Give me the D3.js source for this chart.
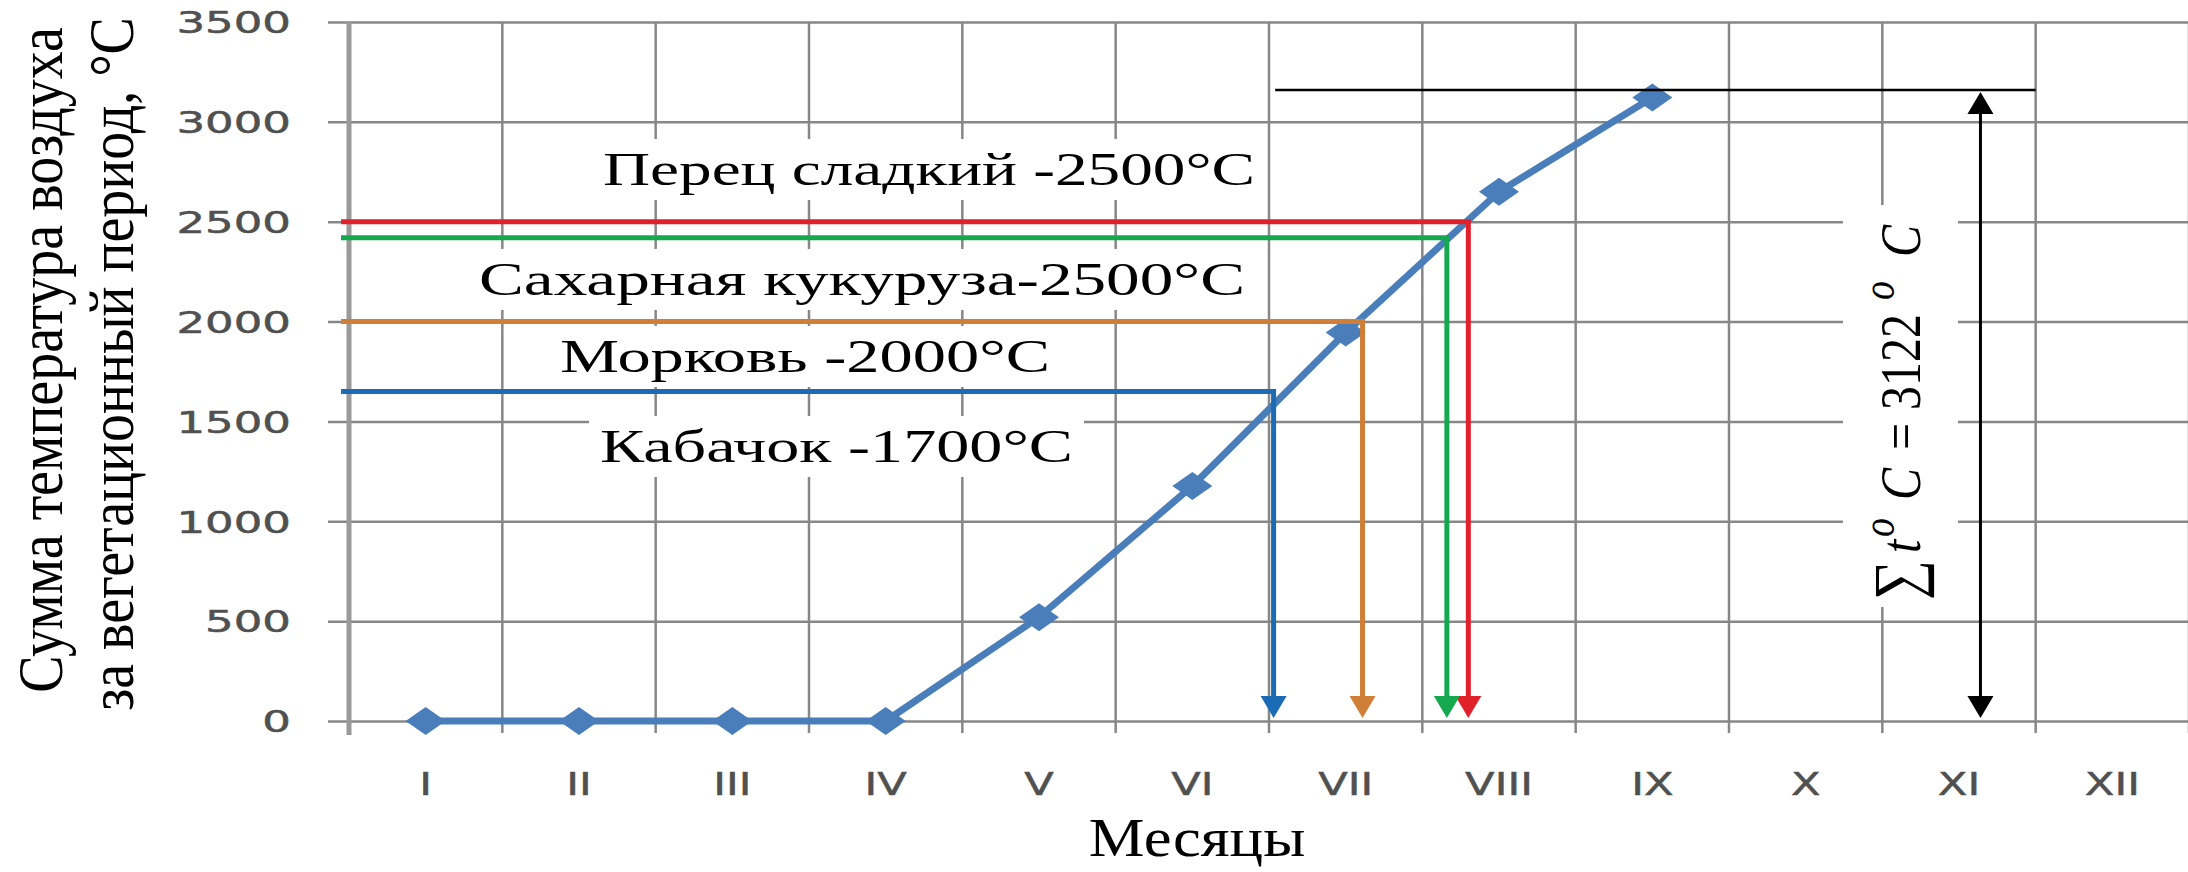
<!DOCTYPE html>
<html>
<head>
<meta charset="utf-8">
<style>
body { margin: 0; background: #fff; }
svg { display: block; background: #fff; }
.grid line { stroke: #878787; stroke-width: 2.5; }
.axis text { fill: #505050; stroke: #505050; stroke-width: 0.5; }
.title { font-family: "Liberation Serif", "Times New Roman", serif; fill: #000; }
.note { font-family: "Liberation Serif", "Times New Roman", serif; font-size: 47px; fill: #000; }
.series { fill: none; stroke: #4a7ebb; stroke-width: 7; stroke-linejoin: round; }
.dot { fill: #4a7ebb; }
</style>
</head>
<body>
<svg width="2188" height="872"></svg>
<script src="https://d3js.org/d3.v7.min.js"></script>
<script>

// ---- data ----
var months = ["I", "II", "III", "IV", "V", "VI", "VII", "VIII", "IX", "X", "XI", "XII"];
var yTickValues = [0, 500, 1000, 1500, 2000, 2500, 3000, 3500];

// cumulative sum of air temperature, I..IX
var sumMonths = ["I", "II", "III", "IV", "V", "VI", "VII", "VIII", "IX"];
var sumValues = [0, 0, 0, 0, 520, 1177, 1945, 2650, 3122];

var crops = ["Перец сладкий", "Сахарная кукуруза", "Морковь", "Кабачок"];
var cropSep = [" -", "-", " -", " -"];
var cropNeed = [2500, 2500, 2000, 1700];     // as written in the labels
var cropLevel = [2500, 2420, 2000, 1650];    // where the coloured line is drawn
var cropMonth = [6.80, 6.66, 6.11, 5.53];    // where the arrow drops (0 = middle of I)

var totalSum = 3122;
var totalLevel = 3160;      // black line on top
var totalFrom = 5.54, totalTo = 10.5, totalArrow = 10.14;

// ---- styles / layout ----
var cropColors = ["#e0202a", "#14a84f", "#cf7f38", "#1b6cb4"];
var labelPos = [[603, 185, 652], [479, 295, 766], [560, 372, 490], [600, 462, 473]];

var svg = d3.select("svg");
var plotLeft = 349, plotRight = 2189, plotTop = 22, zeroY = 721;

var x = d3.scaleBand().domain(months).range([plotLeft, plotRight]);
var xi = d3.scaleLinear().domain([-0.5, 11.5]).range([plotLeft, plotRight]);
var y = d3.scaleLinear().domain([0, 3500]).range([zeroY, plotTop]);

var gGrid = svg.append("g").attr("class", "grid");
var gBoxes = svg.append("g");
var gSeries = svg.append("g");
var gLines = svg.append("g");
var gText = svg.append("g");

// horizontal grid + y labels
var gy = gGrid.append("g")
    .attr("class", "axis")
    .attr("transform", "translate(328,0)")
    .call(d3.axisLeft(y).tickValues(yTickValues).tickSize(-(plotRight - 328)).tickFormat(d3.format("d")));
gy.attr("font-family", "DejaVu Sans").attr("font-size", 30);
gy.select(".domain").remove();
gy.selectAll("text")
    .attr("x", null)
    .attr("dy", "0.36em")
    .attr("transform", "translate(-37,0) scale(1.5,1)");

// vertical grid (category boundaries, with small ticks under 0)
gGrid.selectAll(".vline")
  .data(d3.range(13))
  .enter().append("line")
    .attr("class", "vline")
    .attr("x1", function(d) { return xi(d - 0.5); })
    .attr("x2", function(d) { return xi(d - 0.5); })
    .attr("y1", plotTop)
    .attr("y2", zeroY + 12);

// left axis
gGrid.append("line")
    .attr("x1", plotLeft).attr("x2", plotLeft)
    .attr("y1", plotTop).attr("y2", zeroY + 14)
    .style("stroke", "#9a9a9a").style("stroke-width", 5);

// month labels
var gx = gGrid.append("g")
    .attr("class", "axis")
    .attr("transform", "translate(0," + zeroY + ")")
    .call(d3.axisBottom(x).tickSize(0));
gx.attr("font-family", "DejaVu Sans").attr("font-size", 32);
gx.select(".domain").remove();
gx.selectAll("text")
    .attr("y", 0)
    .attr("dy", 0)
    .attr("transform", "translate(0,74) scale(1.35,1)");

// series
var line = d3.line()
    .x(function(d, i) { return x(sumMonths[i]) + x.bandwidth() / 2; })
    .y(function(d) { return y(d); });

gSeries.append("path")
    .datum(sumValues)
    .attr("class", "series")
    .attr("d", line);

gSeries.selectAll(".dot")
  .data(sumValues)
  .enter().append("path")
    .attr("class", "dot")
    .attr("d", function(d, i) {
      var cx = x(sumMonths[i]) + x.bandwidth() / 2, cy = y(d);
      return "M" + (cx - 20) + "," + cy + "L" + cx + "," + (cy - 14) +
             "L" + (cx + 20) + "," + cy + "L" + cx + "," + (cy + 14) + "Z";
    });

// arrow head helper
function head(g, ax, tipY, dir, color) {
  g.append("path")
    .attr("d", "M" + (ax - 13) + "," + (tipY - 22 * dir) + "L" + (ax + 13) + "," + (tipY - 22 * dir) +
               "L" + ax + "," + tipY + "Z")
    .attr("fill", color);
}

// coloured crop lines
crops.forEach(function(c, i) {
  var px = xi(cropMonth[i]), py = y(cropLevel[i]), tip = zeroY - 3;
  gLines.append("path")
    .attr("d", d3.line()([[341, py], [px, py], [px, tip - 18]]))
    .attr("fill", "none")
    .attr("stroke", cropColors[i])
    .attr("stroke-width", 5);
  head(gLines, px, tip, 1, cropColors[i]);
});

// total line and arrow
var ty = y(totalLevel);
gLines.append("line")
    .attr("x1", xi(totalFrom)).attr("x2", xi(totalTo))
    .attr("y1", ty).attr("y2", ty)
    .attr("stroke", "#000").attr("stroke-width", 2.5);
gLines.append("line")
    .attr("x1", xi(totalArrow)).attr("x2", xi(totalArrow))
    .attr("y1", ty + 18).attr("y2", zeroY - 20)
    .attr("stroke", "#000").attr("stroke-width", 3);
head(gLines, xi(totalArrow), ty + 2, -1, "#000");
head(gLines, xi(totalArrow), zeroY - 3, 1, "#000");

// crop labels, with white boxes hiding the grid
crops.forEach(function(c, i) {
  var p = labelPos[i];
  gBoxes.append("rect")
    .attr("x", p[0] - 11).attr("y", p[1] - 46)
    .attr("width", p[2] + 22).attr("height", 61)
    .attr("fill", "#fff");
  gText.append("text")
    .attr("class", "note")
    .attr("x", p[0]).attr("y", p[1])
    .attr("textLength", p[2])
    .attr("lengthAdjust", "spacingAndGlyphs")
    .text(c + cropSep[i] + cropNeed[i] + "°C");
});

// sum label (rotated)
gBoxes.append("rect")
    .attr("x", 1843).attr("y", 205).attr("width", 115).attr("height", 402)
    .attr("fill", "#fff");
var st = gText.append("text")
    .attr("class", "title")
    .attr("font-size", 48)
    .attr("transform", "translate(1920,600) scale(1.2,1) rotate(-90)");
st.append("tspan").attr("x", 0).attr("font-size", 56).text("∑");
st.append("tspan").attr("x", 47).attr("font-style", "italic").text("t");
st.append("tspan").attr("x", 63).attr("dy", -22).attr("font-size", 38).attr("font-style", "italic").text("o");
st.append("tspan").attr("x", 100).attr("dy", 22).attr("font-style", "italic").text("C");
st.append("tspan").attr("x", 150).text("=");
st.append("tspan").attr("x", 190).text(totalSum);
st.append("tspan").attr("x", 300).attr("dy", -22).attr("font-size", 38).attr("font-style", "italic").text("o");
st.append("tspan").attr("x", 343).attr("dy", 22).attr("font-style", "italic").text("C");

// axis titles
gText.append("text")
    .attr("class", "title")
    .attr("font-size", 56)
    .attr("text-anchor", "middle")
    .attr("transform", "translate(62,360) scale(1.12,1) rotate(-90)")
    .text("Сумма температура воздуха");
gText.append("text")
    .attr("class", "title")
    .attr("font-size", 56)
    .attr("text-anchor", "middle")
    .attr("transform", "translate(133,364) scale(1.12,1) rotate(-90)")
    .text("за вегетационный период, °С");
gText.append("text")
    .attr("class", "title")
    .attr("font-size", 54)
    .attr("text-anchor", "middle")
    .attr("transform", "translate(1197,856) scale(1.16,1)")
    .text("Месяцы");

</script>
</body>
</html>
